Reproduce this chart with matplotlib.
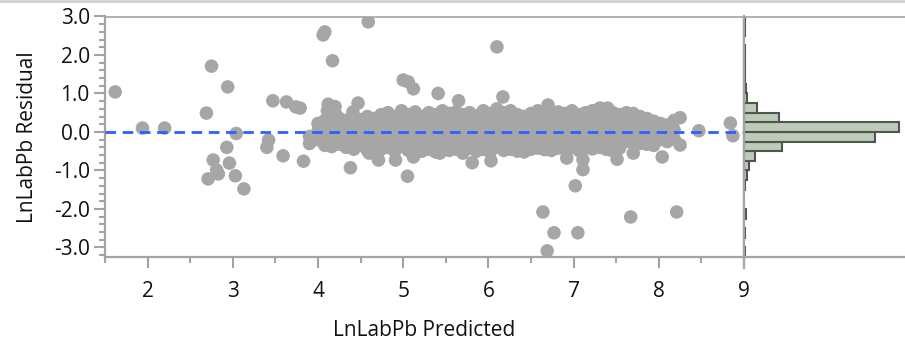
import matplotlib
matplotlib.use("Agg")
import matplotlib.pyplot as plt
from matplotlib.ticker import MultipleLocator, FixedLocator, FuncFormatter
from matplotlib.lines import Line2D

plt.rcParams['font.family'] = ['Open Sans', 'DejaVu Sans']

# ---------------- data ----------------
# isolated points (predicted, residual)
out_pred = [1.62, 1.94, 2.20, 2.69, 2.75, 2.94, 3.04, 2.93, 2.77, 2.81, 2.83, 2.96, 3.03, 3.13, 2.71,
            3.42, 3.40, 3.47, 3.59, 3.63, 3.74, 3.79, 3.83,
            4.08, 4.06, 4.59, 4.17, 6.10,
            4.12, 4.20, 4.11, 4.21, 4.47, 4.41,
            5.00, 5.06, 5.12, 5.41, 5.65, 6.17, 6.70,
            4.38, 5.05, 5.12, 5.14, 4.71, 4.91, 4.60,
            5.43, 5.81, 6.03, 6.92, 7.11, 7.11, 7.02,
            6.64, 6.77, 7.05, 6.69, 7.67, 8.21,
            7.43, 7.51, 7.70, 8.04, 8.25, 8.25, 8.47, 8.84, 8.87,
            7.31, 7.40]
out_resid = [1.04, 0.10, 0.10, 0.49, 1.71, 1.17, -0.04, -0.40, -0.73, -0.99, -1.09, -0.81, -1.14, -1.48, -1.22,
             -0.21, -0.40, 0.81, -0.62, 0.78, 0.65, 0.62, -0.76,
             2.60, 2.52, 2.86, 1.85, 2.21,
             0.72, 0.66, 0.55, 0.45, 0.75, 0.52,
             1.35, 1.30, 1.12, 1.00, 0.81, 0.91, 0.70,
             -0.93, -1.15, -0.65, -0.55, -0.73, -0.73, -0.55,
             -0.55, -0.80, -0.75, -0.68, -0.72, -0.98, -1.40,
             -2.08, -2.62, -2.62, -3.09, -2.21, -2.08,
             -0.47, -0.71, -0.55, -0.65, -0.34, 0.37, 0.03, 0.23, -0.10,
             0.62, 0.62]

# dense central cloud: predicted value of each column and residuals in it
cloud_pred = [3.90, 4.00, 4.08, 4.16, 4.25, 4.33, 4.42, 4.50, 4.58, 4.66,
              4.74, 4.82, 4.90, 4.98, 5.06, 5.14, 5.22, 5.30, 5.38, 5.46,
              5.54, 5.62, 5.70, 5.78, 5.86, 5.94, 6.02, 6.10, 6.18, 6.26,
              6.34, 6.42, 6.50, 6.58, 6.66, 6.74, 6.82, 6.90, 6.98, 7.06,
              7.14, 7.22, 7.30, 7.38, 7.46, 7.54, 7.62, 7.70, 7.78, 7.86,
              7.94, 8.02, 8.10, 8.18]
cloud_resid = [
    [-0.12, -0.30],
    [0.22, 0.02, -0.20],
    [0.30, 0.08, -0.15, -0.35],
    [0.25, 0.05, -0.20, -0.38],
    [0.35, 0.12, -0.10, -0.32],
    [0.30, 0.10, -0.15, -0.40],
    [0.38, 0.15, -0.08, -0.30, -0.45],
    [0.32, 0.10, -0.12, -0.35],
    [0.40, 0.18, -0.05, -0.28, -0.48],
    [0.35, 0.12, -0.10, -0.35, -0.55],
    [0.45, 0.22, 0.00, -0.22, -0.45],
    [0.50, 0.28, 0.05, -0.18, -0.40],
    [0.40, 0.18, -0.05, -0.28, -0.50],
    [0.55, 0.30, 0.08, -0.15, -0.38],
    [0.45, 0.20, -0.02, -0.25, -0.48],
    [0.52, 0.28, 0.05, -0.18, -0.42],
    [0.40, 0.15, -0.08, -0.30, -0.50],
    [0.50, 0.25, 0.02, -0.22, -0.45],
    [0.45, 0.20, -0.05, -0.28, -0.52],
    [0.55, 0.30, 0.08, -0.15, -0.40],
    [0.48, 0.22, -0.02, -0.25, -0.48],
    [0.52, 0.28, 0.05, -0.20, -0.45],
    [0.45, 0.20, -0.05, -0.28, -0.55],
    [0.50, 0.25, 0.02, -0.22, -0.42],
    [0.42, 0.18, -0.06, -0.30, -0.50],
    [0.55, 0.30, 0.06, -0.18, -0.45],
    [0.48, 0.22, -0.02, -0.26, -0.52],
    [0.60, 0.32, 0.08, -0.15, -0.40],
    [0.50, 0.25, 0.00, -0.24, -0.48],
    [0.55, 0.28, 0.05, -0.20, -0.45],
    [0.45, 0.20, -0.04, -0.28, -0.50],
    [0.40, 0.16, -0.08, -0.32, -0.52],
    [0.48, 0.22, -0.02, -0.25, -0.45],
    [0.55, 0.30, 0.05, -0.20, -0.42],
    [0.50, 0.25, 0.00, -0.22, -0.46],
    [0.45, 0.20, -0.05, -0.28, -0.48],
    [0.52, 0.26, 0.03, -0.20, -0.42],
    [0.48, 0.22, -0.02, -0.25, -0.45],
    [0.55, 0.30, 0.05, -0.18, -0.40],
    [0.45, 0.20, -0.04, -0.26, -0.48],
    [0.50, 0.25, 0.02, -0.22, -0.42],
    [0.55, 0.28, 0.05, -0.18, -0.44],
    [0.60, 0.32, 0.08, -0.15, -0.40],
    [0.58, 0.30, 0.05, -0.20, -0.45],
    [0.50, 0.25, 0.00, -0.22, -0.40],
    [0.45, 0.20, -0.04, -0.25, -0.42],
    [0.50, 0.22, -0.02, -0.24],
    [0.48, 0.20, -0.05, -0.30],
    [0.40, 0.15, -0.08, -0.30],
    [0.35, 0.12, -0.10, -0.32],
    [0.28, 0.05, -0.15, -0.35],
    [0.22, 0.00, -0.20],
    [0.18, -0.05, -0.25],
    [0.30, 0.05, -0.18],
]

# histogram of residuals (bin lower edges, width 0.25) and counts
hist_lower = [-3.25, -2.75, -2.25, -1.50, -1.25, -1.00, -0.75, -0.50, -0.25, 0.00,
              0.25, 0.50, 0.75, 1.00, 1.25, 1.50, 1.75, 2.00, 2.50, 2.75]
hist_count = [1, 2, 3, 2, 5, 10, 22, 76, 262, 310,
              70, 26, 6, 4, 2, 1, 1, 1, 2, 1]
bin_width = 0.25

x_ticks = [2, 3, 4, 5, 6, 7, 8, 9]
y_ticks = [-3.0, -2.0, -1.0, 0.0, 1.0, 2.0, 3.0]

# ---------------- figure ----------------
W, H = 905, 343
fig = plt.figure(figsize=(W / 100, H / 100), dpi=100)
axc = '#a3a3a3'
fs = 15

left, right, bottom, top = 105 / W, 744 / W, 1 - 257 / H, 1 - 16.5 / H
ax = fig.add_axes([left, bottom, right - left, top - bottom])
axh = fig.add_axes([right, bottom, 1 - right, top - bottom], sharey=ax)

# cloud points
cx, cy = [], []
for xv, ys in zip(cloud_pred, cloud_resid):
    for yv in ys:
        cx.append(xv)
        cy.append(yv)
ax.scatter(cx, cy, s=95, color='#a6a6a6', edgecolors='none', zorder=2)
ax.scatter(out_pred, out_resid, s=95, color='#a6a6a6', edgecolors='none', zorder=2)
ax.axhline(0, color='#2f5fff', lw=2, ls=(0, (3.8, 2.4)), zorder=3)

ax.set_xlim(1.5, 9.0)
ax.set_ylim(-3.25, 3.0)
ax.xaxis.set_major_locator(FixedLocator(x_ticks))
ax.xaxis.set_minor_locator(MultipleLocator(0.5))
ax.yaxis.set_major_locator(FixedLocator(y_ticks))
ax.yaxis.set_minor_locator(MultipleLocator(0.2))
ax.yaxis.set_major_formatter(FuncFormatter(lambda v, p: f"{v:.1f}".replace('\u2212', '-')))
ax.xaxis.set_major_formatter(FuncFormatter(lambda v, p: f"{int(round(v))}"))

for sp in ['left', 'bottom', 'right', 'top']:
    ax.spines[sp].set_color(axc)
    ax.spines[sp].set_linewidth(1.6)
ax.spines['top'].set_linewidth(1.2)
ax.tick_params(which='major', length=8, width=1.5, color=axc, labelsize=fs, labelcolor='#111111', pad=3)
ax.tick_params(which='minor', length=4, width=1.5, color=axc)
ax.tick_params(axis='x', which='major', pad=9)
ax.set_xlabel('LnLabPb Predicted', fontsize=fs, color='#111111', labelpad=13)
ax.set_ylabel('LnLabPb Residual', fontsize=fs, color='#111111', labelpad=11)

# histogram
centers = [b + bin_width / 2 for b in hist_lower]
axh.barh(centers, hist_count, height=bin_width, color='#bdcbb9', edgecolor='#50554f', linewidth=1.5, zorder=2)
axh.set_xlim(0, 322)
for sp in ['left', 'right']:
    axh.spines[sp].set_visible(False)
axh.spines['top'].set_color(axc)
axh.spines['top'].set_linewidth(1.2)
axh.spines['bottom'].set_color(axc)
axh.spines['bottom'].set_linewidth(1.6)
axh.tick_params(left=False, labelleft=False, bottom=False, labelbottom=False, which='both')

# separator line extending through the tick area
fig.add_artist(Line2D([right, right], [1 - 268 / H, top], transform=fig.transFigure, color=axc, lw=1.6, zorder=5))
# top border of window
fig.add_artist(Line2D([0, 1], [1 - 1 / H, 1 - 1 / H], transform=fig.transFigure, color='#d0d0d0', lw=2))

fig.savefig('out.png', dpi=100)
